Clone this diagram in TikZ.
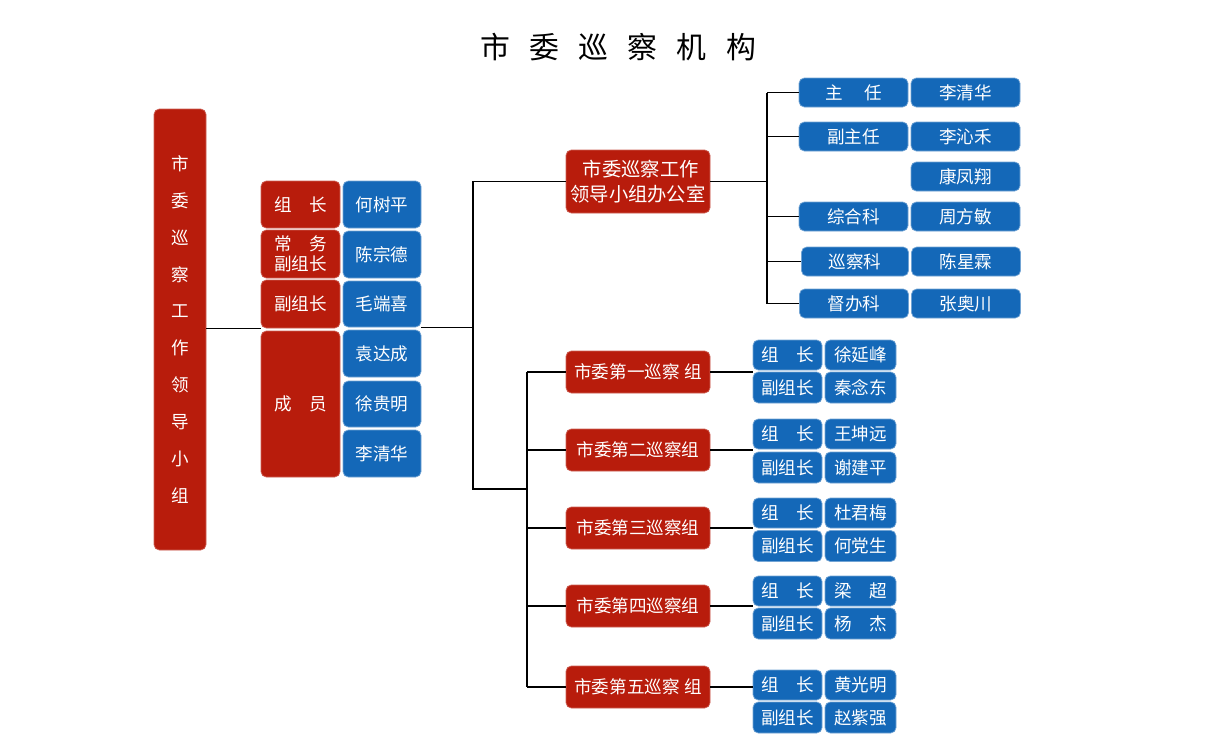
\documentclass[tikz,border=0pt]{standalone}
\usepackage{fontspec}
\usepackage{xcolor}
\setmainfont{Noto Sans CJK SC}
\usetikzlibrary{calc,positioning}

\definecolor{xred}{RGB}{184,28,12}
\definecolor{xblue}{RGB}{20,104,184}

\tikzset{
	sz/.style 2 args = {minimum width=#1*0.02cm, minimum height=#2*0.02cm},
	redbox/.style = {fill=xred, draw=xred!70!white, rounded corners=3pt, inner sep=0pt,
		text=white, align=center, font=\fontsize{10}{12}\selectfont},
	bluebox/.style = {fill=xblue, draw=xblue!60!white, rounded corners=3pt, inner sep=0pt,
		text=white, align=center, font=\fontsize{10}{12}\selectfont},
	link/.style = {draw=black, line width=0.6pt}
}

\begin{document}
\begin{tikzpicture}[x=0.02cm, y=-0.02cm]
		\useasboundingbox (0,0) rectangle (1230,737);
		\node (title) at (618,47) {\fontsize{17}{20}\selectfont 市\hspace{11pt}委\hspace{11pt}巡\hspace{11pt}察\hspace{11pt}机\hspace{11pt}构};

		\begin{scope}
			\node[redbox, sz={52}{441}, font=\fontsize{10}{21}\selectfont] (lead) at (180,329.5)
				{市\\委\\巡\\察\\工\\作\\领\\导\\小\\组};

			\node[redbox, sz={79}{47}] (zz) at (300.5,204.5) {组\hspace{1em}长};
			\node[redbox, sz={79}{48}, font=\fontsize{10}{11.5}\selectfont] (cw) at (300.5,254) {常\hspace{1em}务\\副组长};
			\node[redbox, sz={79}{48}] (fz) at (300.5,304) {副组长};
			\node[redbox, sz={79}{146}] (cy) at (300.5,404) {成\hspace{1em}员};

			\node[bluebox, sz={78}{47}] (n1) at (382,204.5) {何树平};
			\node[bluebox, sz={78}{47}] (n2) at (382,254.5) {陈宗德};
			\node[bluebox, sz={78}{46}] (n3) at (382,304) {毛端喜};
			\node[bluebox, sz={78}{47}] (n4) at (382,353.5) {袁达成};
			\node[bluebox, sz={78}{46}] (n5) at (382,404) {徐贵明};
			\node[bluebox, sz={78}{47}] (n6) at (382,453.5) {李清华};
		\end{scope}

		\begin{scope}
			\node[redbox, sz={144}{63}, font=\fontsize{11}{14}\selectfont] (office) at (638,181.5) {\hspace{0.3em}市委巡察工作\\领导小组办公室};
			\node[redbox, sz={144}{42}] (g1) at (638,372) {市委第一巡察\hspace{0.25em}组};
			\node[redbox, sz={144}{42}] (g2) at (638,450) {市委第二巡察组};
			\node[redbox, sz={144}{42}] (g3) at (638,528) {市委第三巡察组};
			\node[redbox, sz={144}{42}] (g4) at (638,606) {市委第四巡察组};
			\node[redbox, sz={144}{42}] (g5) at (638,687) {市委第五巡察\hspace{0.25em}组};
		\end{scope}

		\begin{scope}
			\node[bluebox, sz={109}{29}] (o1) at (853.5,92.5) {主\hspace{1.2em}任};
			\node[bluebox, sz={109}{29}] (p1) at (965.5,92.5) {李清华};
			\node[bluebox, sz={109}{29}] (o2) at (853.5,136.5) {副主任};
			\node[bluebox, sz={109}{29}] (p2) at (965.5,136.5) {李沁禾};
			\node[bluebox, sz={109}{29}] (p3) at (965.5,176.5) {康凤翔};
			\node[bluebox, sz={109}{29}] (o4) at (853.5,216.5) {综合科};
			\node[bluebox, sz={109}{29}] (p4) at (965.5,216.5) {周方敏};
			\node[bluebox, sz={107}{29}] (o5) at (855,261.5) {巡察科};
			\node[bluebox, sz={109}{29}] (p5) at (966,261.5) {陈星霖};
			\node[bluebox, sz={109}{29}] (o6) at (854,303.5) {督办科};
			\node[bluebox, sz={109}{29}] (p6) at (966,303.5) {张奥川};
		\end{scope}

		\begin{scope}
			\node[bluebox, sz={69}{30}] (a1) at (787.5,355) {组\hspace{1em}长};
			\node[bluebox, sz={71}{30}] (b1) at (860.5,355) {徐延峰};
			\node[bluebox, sz={69}{31}] (c1) at (787.5,387.5) {副组长};
			\node[bluebox, sz={71}{31}] (d1) at (860.5,387.5) {秦念东};
			\node[bluebox, sz={69}{30}] (a2) at (787.5,434) {组\hspace{1em}长};
			\node[bluebox, sz={71}{30}] (b2) at (860.5,434) {王坤远};
			\node[bluebox, sz={69}{31}] (c2) at (787.5,467.5) {副组长};
			\node[bluebox, sz={71}{31}] (d2) at (860.5,467.5) {谢建平};
			\node[bluebox, sz={69}{30}] (a3) at (787.5,513) {组\hspace{1em}长};
			\node[bluebox, sz={71}{30}] (b3) at (860.5,513) {杜君梅};
			\node[bluebox, sz={69}{31}] (c3) at (787.5,546) {副组长};
			\node[bluebox, sz={71}{31}] (d3) at (860.5,546) {何党生};
			\node[bluebox, sz={69}{30}] (a4) at (787.5,591) {组\hspace{1em}长};
			\node[bluebox, sz={71}{30}] (b4) at (860.5,591) {梁\hspace{1em}超};
			\node[bluebox, sz={69}{31}] (c4) at (787.5,623.5) {副组长};
			\node[bluebox, sz={71}{31}] (d4) at (860.5,623.5) {杨\hspace{1em}杰};
			\node[bluebox, sz={69}{30}] (a5) at (787.5,685) {组\hspace{1em}长};
			\node[bluebox, sz={71}{30}] (b5) at (860.5,685) {黄光明};
			\node[bluebox, sz={69}{31}] (c5) at (787.5,717.5) {副组长};
			\node[bluebox, sz={71}{31}] (d5) at (860.5,717.5) {赵紫强};
		\end{scope}

		\coordinate (sp0) at (473,328);
		\coordinate (sp1) at (473,489);
		\coordinate (sp2) at (527,372);
		\coordinate (sp3) at (527,687);
		\coordinate (ob) at (767,92.5);

		\draw[link] (lead.east |- fz.south west) -- (fz.south west);
		\draw[link] (n3.south east) -- (n3.south east -| sp0);
		\draw[link] (office.west) -| (sp1) -- (sp1 -| sp2);
		\draw[link] (sp2) -- (sp3);
		\foreach \g in {g1,g2,g3,g4,g5}
			\draw[link] (\g.west) -- (\g.west -| sp2);
		\foreach \g/\a in {g1/a1,g2/a2,g3/a3,g4/a4,g5/a5}
			\draw[link] (\g.east) -- (\g.east -| \a.west);
		\draw[link] (office.east) -- (office.east -| ob);
		\draw[link] (ob) -- (o6.west -| ob);
		\foreach \o in {o1,o2,o4,o5,o6}
			\draw[link] (\o.west) -- (\o.west -| ob);
	\end{tikzpicture}
\end{document}
